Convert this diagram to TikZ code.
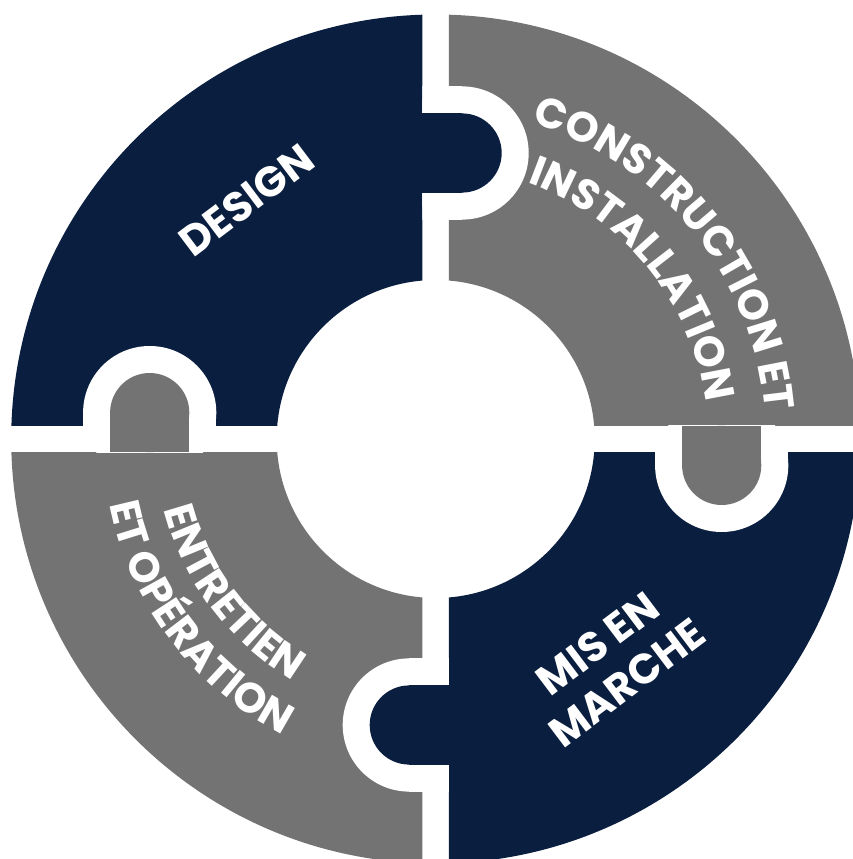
\documentclass[tikz,border=0pt]{standalone}
\usepackage{fontspec}
\newfontfamily\txtfont{Poppins}
\usetikzlibrary{decorations.text}
\definecolor{navy}{HTML}{0A1F3F}
\definecolor{slate}{HTML}{737373}
\newcommand\lblfont{\txtfont\bfseries\fontsize{42}{49}\selectfont\color{white}}
\tikzset{
  lbl/.style={text=white, font=\lblfont, inner sep=0pt},
  arctext/.style={decorate, decoration={text along path, text align=center, text={|\lblfont|#1}}}
}
\begin{document}
\begin{tikzpicture}[x=1pt,y=1pt]
\clip (-435.7,-420) rectangle (417.3,439);
\fill[white] (-435.7,-420) rectangle (417.3,439);
% ring quadrants
\foreach \ang/\col in {0/navy,-90/slate,-180/navy,-270/slate}{
  \begin{scope}[rotate=\ang]
    \clip (-460,13.2) rectangle (-13.2,460);
    \fill[\col, even odd rule] (0,0) circle[radius=424.5pt] (0,0) circle[radius=159pt];
  \end{scope}
}
% puzzle tabs
\foreach \ang/\col in {0/navy,-90/slate,-180/navy,-270/slate}{
  \begin{scope}[rotate=\ang]
    \begin{scope}
      \clip (-13.2,-460) rectangle (460,460);
      \fill[white] (26.4,286) circle[radius=66.6pt];
      \fill[white] (-13.2,219.4) rectangle (26.4,352.6);
    \end{scope}
    \fill[\col] (-13.2,246.4) rectangle (26.4,325.6);
    \fill[\col] (26.4,286) circle[radius=39.6pt];
  \end{scope}
}
% labels
\node[lbl, rotate=37] (design) at (-189.2,239) {DESIGN};
\node[lbl, rotate=37, align=center] (mise) at (176.5,-224) {MIS EN\\MARCHE};
\path[arctext={CONSTRUCTION ET}] (99:330.3pt) arc[start angle=99, end angle=-21, radius=330.3pt];
\path[arctext={INSTALLATION}] (99:272.3pt) arc[start angle=99, end angle=-21, radius=272.3pt];
\path[arctext={ENTRETIEN}] (157:280.7pt) arc[start angle=157, end angle=277, radius=280.7pt];
\path[arctext={ET OPÉRATION}] (157:332.7pt) arc[start angle=157, end angle=277, radius=332.7pt];
\end{tikzpicture}
\end{document}
